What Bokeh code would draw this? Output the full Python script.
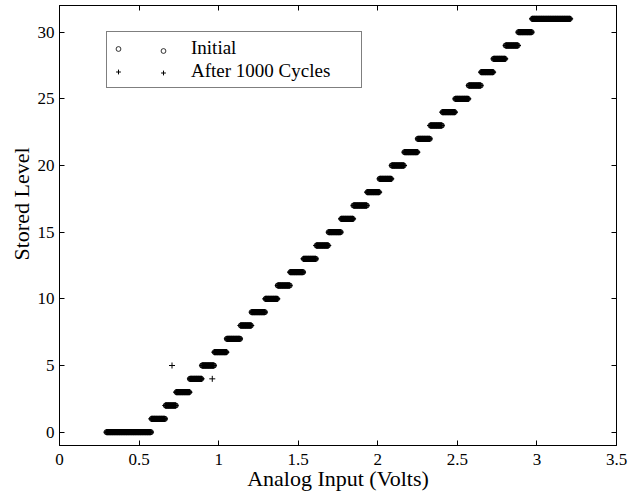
import numpy as np
from bokeh.plotting import figure
from bokeh.models import (LinearAxis, Legend, LegendItem, FixedTicker, Range1d,
                          CustomLabelingPolicy, Title)
from bokeh.embed import file_html
from bokeh.resources import INLINE

# ---- data ----
# input voltage at which the stored level steps up to level 1, 2, ..., 31
level_thresholds = [0.577, 0.664, 0.732, 0.818, 0.895, 0.973, 1.051, 1.136,
                    1.206, 1.292, 1.370, 1.449, 1.533, 1.613, 1.691, 1.768,
                    1.846, 1.933, 2.010, 2.087, 2.166, 2.251, 2.329, 2.405,
                    2.486, 2.571, 2.649, 2.726, 2.803, 2.883, 2.968]
sweep_start = 0.295   # first input voltage of the sweep
sweep_stop = 3.21     # last input voltage of the sweep
sweep_step = 0.004    # sweep increment (V)
# stray readings after 1000 cycles
outlier_x = [0.707, 0.960]
outlier_level = [5, 4]

x_ticks = [0, 0.5, 1, 1.5, 2, 2.5, 3, 3.5]
x_tick_labels = ["0", "0.5", "1", "1.5", "2", "2.5", "3", "3.5"]
y_ticks = [0, 5, 10, 15, 20, 25, 30]
x_title = "Analog Input (Volts)"
y_title = "Stored Level"

v_init = np.arange(sweep_start, sweep_stop, sweep_step)
lvl_init = np.searchsorted(level_thresholds, v_init, side="right")
v_after = np.arange(sweep_start + sweep_step / 2, sweep_stop, sweep_step)
lvl_after = np.searchsorted(level_thresholds, v_after, side="right")
v_after = np.concatenate([v_after, outlier_x])
lvl_after = np.concatenate([lvl_after, outlier_level])

FONT = "Liberation Serif"

p = figure(width=639, height=497, output_backend="svg", toolbar_location=None,
           x_range=Range1d(0, 3.5), y_range=Range1d(-1, 32),
           min_border_left=59, min_border_right=23,
           min_border_top=5, min_border_bottom=52)
p.xgrid.visible = False
p.ygrid.visible = False
p.outline_line_color = "black"
p.outline_line_width = 1
p.background_fill_color = "white"
p.border_fill_color = "white"

r_init = p.scatter(v_init, lvl_init, marker="circle", size=5,
                   line_color="black", fill_color=None, line_width=0.8)
r_after = p.scatter(v_after, lvl_after, marker="cross", size=6,
                    line_color="black", line_width=1)

def style_axis(ax, ticks):
    ax.ticker = FixedTicker(ticks=ticks)
    ax.major_tick_in = 5
    ax.major_tick_out = 0
    ax.minor_tick_in = 0
    ax.minor_tick_out = 0
    ax.axis_line_color = "black"
    ax.major_tick_line_color = "black"
    ax.major_label_text_font = FONT
    ax.major_label_text_color = "black"
    ax.axis_label_text_font = FONT
    ax.axis_label_text_font_style = "normal"
    ax.axis_label_text_color = "black"

xa = p.xaxis[0]
style_axis(xa, x_ticks)
xa.major_label_overrides = {float(t): s for t, s in zip(x_ticks, x_tick_labels)}
xa.major_label_text_font_size = "17px"
xa.major_label_standoff = 8
xa.axis_label = x_title
xa.axis_label_text_font_size = "22px"
xa.axis_label_standoff = -2

ya = p.yaxis[0]
style_axis(ya, y_ticks)
ya.major_label_text_font_size = "17px"
ya.major_label_standoff = 5

# y title sits a little above the middle of the axis, as in the reference
p.add_layout(Title(text=y_title, align="left", offset=185, standoff=2,
                   text_font=FONT, text_font_size="22px",
                   text_font_style="normal", text_color="black"), "left")

# tick-only axes closing the box (ticks pointing inwards, no labels)
for loc, ticks in (("right", y_ticks), ("above", x_ticks)):
    ax = LinearAxis()
    style_axis(ax, ticks)
    ax.major_label_text_font_size = "0px"
    ax.major_label_standoff = 0
    ax.major_label_policy = CustomLabelingPolicy(code="return new Set()")
    p.add_layout(ax, loc)

common = dict(margin=0, padding=5, spacing=1, glyph_width=12,
              glyph_height=21, label_height=21,
              label_text_font=FONT, label_text_font_size="19px")
legend_a = Legend(items=[LegendItem(label="Initial", renderers=[r_init]),
                         LegendItem(label="After 1000 Cycles", renderers=[r_after])],
                  location=(47, 357), label_standoff=67, label_width=165,
                  label_text_color="black",
                  border_line_color="black", border_line_width=1,
                  background_fill_color="white", background_fill_alpha=1,
                  **common)
# second marker of each legend entry (sample line drawn with markers at both ends)
legend_b = Legend(items=[LegendItem(label=" ", renderers=[r_init]),
                         LegendItem(label=" ", renderers=[r_after])],
                  location=(93, 357), label_standoff=0, label_width=1,
                  border_line_alpha=0, background_fill_alpha=0,
                  **common)
p.add_layout(legend_a, "center")
p.add_layout(legend_b, "center")

open("out.html", "w").write(file_html(p, INLINE))
